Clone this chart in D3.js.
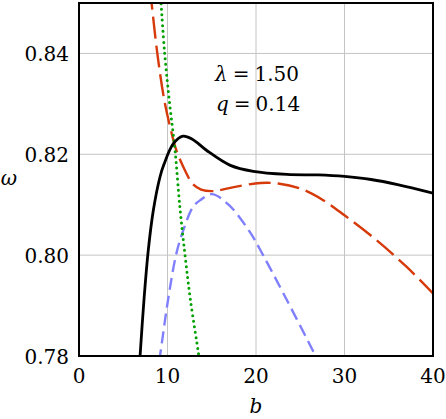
<!DOCTYPE html>
<html>
<head>
<meta charset="utf-8">
<script src="https://cdn.jsdelivr.net/npm/d3@7/dist/d3.min.js"></script>
</head>
<body style="margin:0;background:#fff">
<svg id="chart" width="446" height="419"></svg>
<script>
const xTicks = [0, 10, 20, 30, 40];
const yTicks = [0.78, 0.80, 0.82, 0.84];

const blackB = [6.9, 7.34, 7.83, 8.4, 9.15, 9.6, 10.66, 11.75, 12.8, 14.4, 17.1, 19.7, 23.5, 27, 30, 33, 36, 40];
const blackW = [0.78, 0.7911, 0.801, 0.8089, 0.8155, 0.8180, 0.8221, 0.8236, 0.8230, 0.8208, 0.8178, 0.8166, 0.8160, 0.8159, 0.8156, 0.8150, 0.8140, 0.8123];

const redB = [8.0, 8.2, 8.85, 9.64, 10.3, 11.0, 12.2, 12.8, 13.8, 15.2, 17.5, 20.5, 22.5, 25, 27.5, 30, 33.6, 37, 40];
const redW = [0.853, 0.85, 0.84, 0.8307, 0.8254, 0.8208, 0.8160, 0.8142, 0.8130, 0.8127, 0.8135, 0.8143, 0.8142, 0.8132, 0.8110, 0.8079, 0.8030, 0.7977, 0.7924];

const blueB = [9.05, 9.15, 10.05, 11.0, 11.8, 12.9, 13.7, 15.0, 16.9, 19.3, 20.8, 23.1, 26.3, 26.8];
const blueW = [0.779, 0.78, 0.791, 0.8003, 0.805, 0.8096, 0.8109, 0.8121, 0.8100, 0.8046, 0.8000, 0.7924, 0.7815, 0.7797];

const greenB = [9.2, 9.27, 9.68, 10.2, 10.85, 11.4, 12.0, 12.6, 13.5, 13.6];
const greenW = [0.852, 0.85, 0.84, 0.8307, 0.8208, 0.8095, 0.7997, 0.7910, 0.7805, 0.779];

const FONT = "'DejaVu Serif', serif";
const svg = d3.select("#chart");
const L = 79, T = 3, R = 433, B = 356;
const x = d3.scaleLinear().domain([0, 40]).range([L, R]);
const y = d3.scaleLinear().domain([0.78, 0.85]).range([B, T]);

svg.append("defs").append("clipPath").attr("id", "clip")
  .append("rect").attr("x", L).attr("y", T).attr("width", R - L).attr("height", B - T);

// grid
const grid = svg.append("g").attr("stroke", "#c4c4c4").attr("stroke-width", 1);
xTicks.slice(1, -1).forEach(t => grid.append("line")
  .attr("x1", x(t)).attr("x2", x(t)).attr("y1", T).attr("y2", B));
yTicks.slice(1).forEach(t => grid.append("line")
  .attr("x1", L).attr("x2", R).attr("y1", y(t)).attr("y2", y(t)));

const line = d3.line().x(d => x(d[0])).y(d => y(d[1])).curve(d3.curveCatmullRom.alpha(0.5));
const zip = (a, b) => a.map((v, i) => [v, b[i]]);

const plot = svg.append("g").attr("clip-path", "url(#clip)").attr("fill", "none");
plot.append("path").attr("d", line(zip(blueB, blueW)))
  .attr("stroke", "#8080ff").attr("stroke-width", 2.4).attr("stroke-dasharray", "12,6");
plot.append("path").attr("d", line(zip(redB, redW)))
  .attr("stroke", "#d63a0a").attr("stroke-width", 2.4).attr("stroke-dasharray", "22,7");
plot.append("path").attr("d", line(zip(greenB, greenW)))
  .attr("stroke", "#00a000").attr("stroke-width", 3).attr("stroke-linecap", "round")
  .attr("stroke-dasharray", "0,5.5");
plot.append("path").attr("d", line(zip(blackB, blackW)))
  .attr("stroke", "#000").attr("stroke-width", 2.8);

// frame
svg.append("rect").attr("x", L).attr("y", T).attr("width", R - L).attr("height", B - T)
  .attr("fill", "none").attr("stroke", "#000").attr("stroke-width", 2);

const txt = (sel) => sel.style("font-family", FONT).attr("font-size", 20);

// tick labels
svg.append("g").selectAll("text").data(xTicks).join("text")
  .call(txt)
  .attr("x", d => x(d)).attr("y", 383).attr("text-anchor", "middle")
  .text(d => d);
svg.append("g").selectAll("text").data(yTicks).join("text")
  .call(txt)
  .attr("x", 69).attr("y", d => y(d) + 7.5).attr("text-anchor", "end")
  .text(d => d.toFixed(2));

// axis labels
svg.append("text").call(txt).attr("x", 256).attr("y", 413).attr("text-anchor", "middle")
  .attr("font-style", "italic").text("b");
svg.append("text").call(txt).attr("x", 9).attr("y", 185).attr("text-anchor", "middle")
  .attr("font-style", "italic").text("ω");

// annotation
const ann1 = svg.append("text").call(txt).attr("x", 215).attr("y", 81);
ann1.append("tspan").attr("font-style", "italic").text("λ");
ann1.append("tspan").attr("dx", 5).text("=");
ann1.append("tspan").attr("dx", 5).text("1.50");
const ann2 = svg.append("text").call(txt).attr("x", 216).attr("y", 111);
ann2.append("tspan").attr("font-style", "italic").text("q");
ann2.append("tspan").attr("dx", 5).text("=");
ann2.append("tspan").attr("dx", 5).text("0.14");
</script>
</body>
</html>
